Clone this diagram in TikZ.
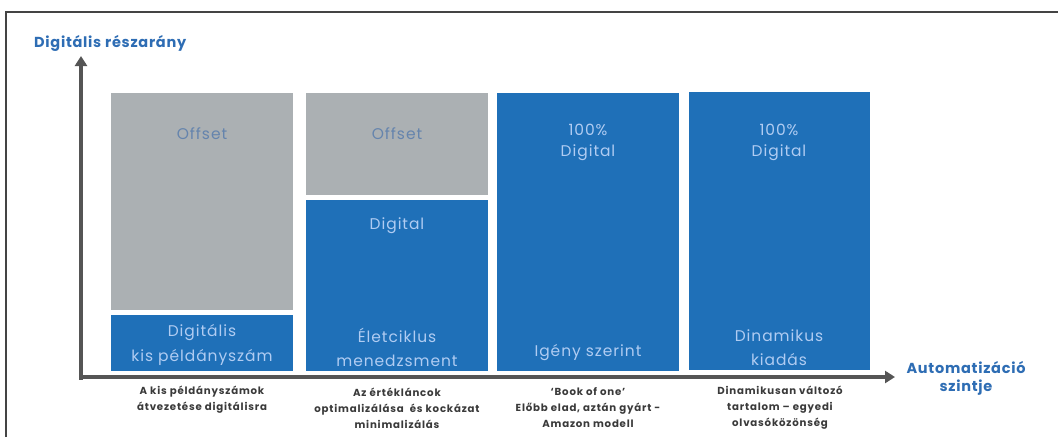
\documentclass[tikz,border=0pt]{standalone}
\usepackage{fontspec}
\setmainfont{Poppins}
\usetikzlibrary{arrows.meta,positioning}
\definecolor{boxgray}{HTML}{ABB0B3}
\definecolor{boxblue}{HTML}{1F70B8}
\definecolor{boxtext}{HTML}{B0CCF2}
\definecolor{offtext}{HTML}{6584AD}
\definecolor{axisgray}{HTML}{555555}
\definecolor{titleblue}{HTML}{2E6DB4}
\definecolor{labelgray}{HTML}{3A3A3A}
\definecolor{framegray}{HTML}{444444}
\tikzset{
  gbox/.style={fill=boxgray, draw=none, inner sep=0pt, anchor=north west},
  bbox/.style={fill=boxblue, draw=none, inner sep=0pt, anchor=north west},
  intext/.style={text=boxtext, font=\fontsize{15.5}{24}\selectfont\addfontfeatures{LetterSpace=6}, align=center, inner sep=0pt},
  offtxt/.style={text=offtext, font=\fontsize{15.5}{24}\selectfont\addfontfeatures{LetterSpace=6}, align=center, inner sep=0pt},
  axislbl/.style={text=titleblue, font=\bfseries\fontsize{14.5}{18}\selectfont\addfontfeatures{LetterSpace=5}, align=center, inner sep=0pt},
  bottomlbl/.style={text=labelgray, font=\bfseries\fontsize{10.2}{16}\selectfont\addfontfeatures{LetterSpace=8}, align=center, inner sep=0pt},
  axisline/.style={draw=axisgray, line width=3.5pt, -{Triangle[width=12pt,length=10pt]}}
}
\begin{document}
\begin{tikzpicture}[x=1pt,y=-1pt]
\useasboundingbox (0,0) rectangle (1058,437);
\fill[white] (0,0) rectangle (1058,437);
% frame
\draw[framegray, line width=1.8pt] (6,437) -- (6,12) -- (1058,12);

% column 1
\node[gbox, minimum width=182pt, minimum height=217pt] (c1g) at (111,93) {};
\node[bbox, minimum width=182pt, minimum height=56pt] (c1b) at (111,315) {};
% column 2
\node[gbox, minimum width=182pt, minimum height=102pt] (c2g) at (306,93) {};
\node[bbox, minimum width=182pt, minimum height=171pt] (c2b) at (306,200) {};
% column 3
\node[bbox, minimum width=182pt, minimum height=278pt] (c3b) at (497,93) {};
% column 4
\node[bbox, minimum width=181pt, minimum height=278pt] (c4b) at (689,92) {};

% texts in boxes
\node[offtxt] (t1o) at (202,134) {Offset};
\node[intext, font=\fontsize{15.5}{25}\selectfont\addfontfeatures{LetterSpace=6}] (t1d) at (202,345) {Digitális\\kis példányszám};
\node[offtxt] (t2o) at (397,134) {Offset};
\node[intext] (t2d) at (397,226) {Digital};
\node[intext] (t2e) at (397,347) {Életciklus\\menedzsment};
\node[intext, font=\fontsize{15.5}{21}\selectfont\addfontfeatures{LetterSpace=6}] (t3a) at (588,142) {100\%\\Digital};
\node[intext] (t3b) at (588,353) {Igény szerint};
\node[intext, font=\fontsize{15.5}{21}\selectfont\addfontfeatures{LetterSpace=6}] (t4a) at (779,142) {100\%\\Digital};
\node[intext] (t4b) at (779,348) {Dinamikus\\kiadás};

% axes
\coordinate (origin) at (81,378);
\coordinate (ytip) at (81,56);
\coordinate (xtip) at (895,377);
\draw[axisline] (81,379.5) -- (ytip);
\draw[axisline] (79.5,377) -- (xtip);

% axis labels
\node[axislbl, anchor=west] (ylab) at (34,43) {Digitális részarány};
\node[axislbl] (xlab) at (966,378) {Automatizáció\\szintje};

% bottom labels
\node[bottomlbl] (b1) at (202,400) {A kis példányszámok\\átvezetése digitálisra};
\node[bottomlbl] (b2) at (397,408) {Az értékláncok\\optimalizálása\ \ és kockázat\\minimalizálás};
\node[bottomlbl] (b3) at (588,408) {`Book of one'\\Előbb elad, aztán gyárt -\\Amazon modell};
\node[bottomlbl] (b4) at (780,408) {Dinamikusan változó\\tartalom – egyedi\\olvasóközönség};
\end{tikzpicture}
\end{document}
